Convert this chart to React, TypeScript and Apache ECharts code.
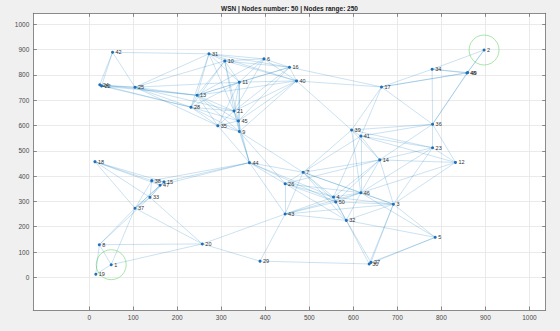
import { useEffect, useRef } from "react";
import * as echarts from "echarts";

const TITLE = "WSN | Nodes number: 50 | Nodes range: 250";
const NODE_RANGE = 250;

const NODE_IDS = [
  1, 2, 3, 4, 5, 6, 7, 8, 9, 10,
  11, 12, 13, 14, 15, 16, 17, 18, 19, 20,
  21, 22, 23, 24, 25, 26, 27, 28, 29, 30,
  31, 32, 33, 34, 35, 36, 37, 38, 39, 40,
  41, 42, 43, 44, 45, 46, 47, 48, 49, 50,
];
const NODE_X = [
  50, 897, 691, 555, 786, 397, 486, 23, 341, 308,
  341, 832, 245, 660, 170, 455, 664, 13, 15, 257,
  329, 28, 780, 24, 104, 445, 640, 231, 388, 636,
  272, 584, 138, 779, 292, 780, 104, 142, 596, 471,
  617, 53, 445, 364, 339, 617, 161, 858, 860, 560,
];
const NODE_Y = [
  50, 898, 289, 317, 158, 863, 415, 129, 576, 855,
  771, 454, 719, 464, 377, 830, 752, 457, 12, 132,
  657, 756, 512, 761, 751, 370, 59, 672, 64, 53,
  883, 225, 316, 822, 599, 605, 273, 382, 582, 776,
  558, 889, 250, 453, 618, 334, 364, 807, 809, 298,
];
const HIGHLIGHT_IDS = [2, 1];

const TICKS = [0, 100, 200, 300, 400, 500, 600, 700, 800, 900, 1000];
const X_MIN = -127;
const X_MAX = 1037;
const Y_MIN = -129;
const Y_MAX = 1043;

const FONT = "'Liberation Sans', Arial, Helvetica, sans-serif";

function buildLinks() {
  const links: { source: string; target: string }[] = [];
  for (let i = 0; i < NODE_IDS.length; i++) {
    for (let j = i + 1; j < NODE_IDS.length; j++) {
      const dx = NODE_X[i] - NODE_X[j];
      const dy = NODE_Y[i] - NODE_Y[j];
      if (Math.sqrt(dx * dx + dy * dy) <= NODE_RANGE) {
        links.push({ source: String(NODE_IDS[i]), target: String(NODE_IDS[j]) });
      }
    }
  }
  return links;
}

function axisCommon(min: number, max: number, showLabel: boolean, showSplit: boolean, position: string) {
  return {
    type: "value",
    position,
    min,
    max,
    axisLine: { show: true, onZero: false, lineStyle: { color: "#6e6e6e", width: 0.8 } },
    axisTick: {
      show: true,
      inside: true,
      length: 3.5,
      customValues: TICKS,
      lineStyle: { color: "#6e6e6e", width: 0.8 },
    },
    axisLabel: {
      show: showLabel,
      customValues: TICKS,
      fontSize: 6.5,
      color: "#4a4a4a",
      fontFamily: FONT,
      margin: 4,
      formatter: (v: number) => String(v),
    },
    splitLine: { show: showSplit, lineStyle: { color: "#e4e4e4", width: 0.8 } },
  };
}

export default function App() {
  const ref = useRef<HTMLDivElement>(null);
  useEffect(() => {
    document.body.style.margin = "0";
    if (!ref.current) return;
    const chart = echarts.init(ref.current, undefined, { renderer: "svg" });
    const nodes = NODE_IDS.map((id, i) => ({ name: String(id), value: [NODE_X[i], NODE_Y[i]] }));
    const highlight = HIGHLIGHT_IDS.map((id) => {
      const i = NODE_IDS.indexOf(id);
      return [NODE_X[i], NODE_Y[i]];
    });
    chart.setOption({
      animation: false,
      backgroundColor: "#f0f0f0",
      grid: {
        left: 33.3,
        top: 13.3,
        right: 14.3,
        bottom: 21,
        show: true,
        backgroundColor: "#ffffff",
        borderWidth: 0,
      },
      graphic: [
        {
          type: "text",
          x: 289.5,
          y: 8.5,
          style: {
            text: TITLE,
            textAlign: "center",
            textVerticalAlign: "middle",
            font: `bold 6.5px ${FONT}`,
            fill: "#222",
          },
        },
      ],
      xAxis: [
        axisCommon(X_MIN, X_MAX, true, true, "bottom"),
        axisCommon(X_MIN, X_MAX, false, false, "top"),
      ],
      yAxis: [
        axisCommon(Y_MIN, Y_MAX, true, true, "left"),
        axisCommon(Y_MIN, Y_MAX, false, false, "right"),
      ],
      series: [
        {
          type: "graph",
          coordinateSystem: "cartesian2d",
          xAxisIndex: 0,
          yAxisIndex: 0,
          layout: "none",
          silent: true,
          symbol: "circle",
          symbolSize: 3,
          itemStyle: { color: "#1f6fb8" },
          lineStyle: { color: "#0072BD", opacity: 0.3, width: 0.7, curveness: 0 },
          label: {
            show: true,
            position: "right",
            distance: 1.5,
            fontSize: 5.5,
            color: "#333",
            fontFamily: FONT,
            formatter: "{b}",
          },
          emphasis: { disabled: true },
          data: nodes,
          links: buildLinks(),
          z: 3,
        },
        {
          type: "scatter",
          xAxisIndex: 0,
          yAxisIndex: 0,
          silent: true,
          symbol: "circle",
          symbolSize: 30,
          itemStyle: { color: "rgba(0,0,0,0)", borderColor: "#86dd86", borderWidth: 0.9 },
          data: highlight,
          z: 2,
        },
      ],
    });
    return () => chart.dispose();
  }, []);
  return <div ref={ref} style={{ width: 560, height: 331 }} />;
}
